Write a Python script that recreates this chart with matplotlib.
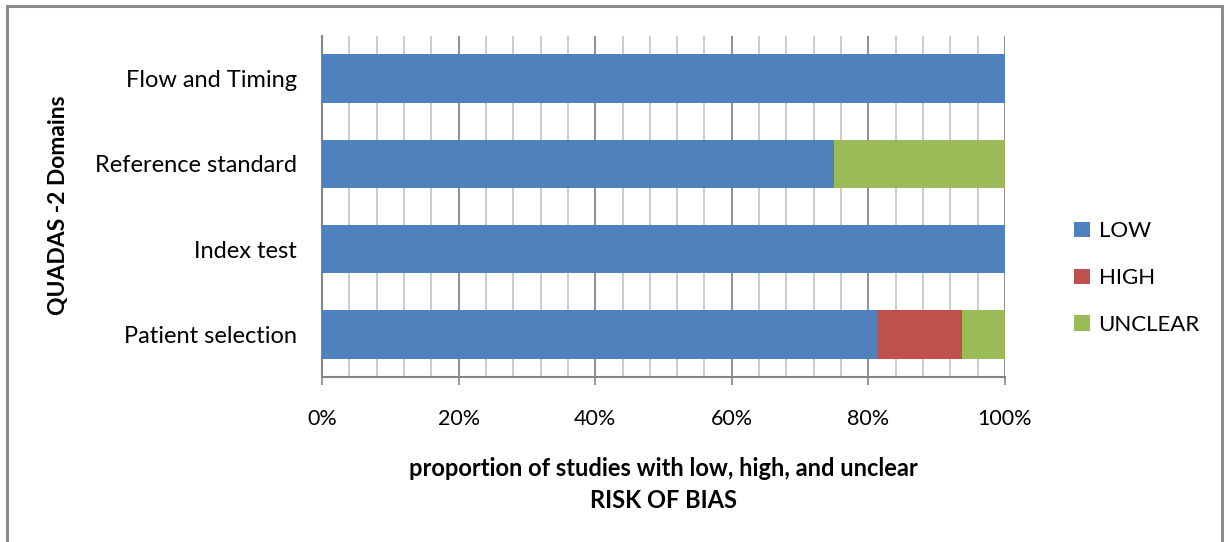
import matplotlib.pyplot as plt
import matplotlib.patches as mpatches
from matplotlib.ticker import MultipleLocator, PercentFormatter

# QUADAS-2 risk of bias, proportion of studies per domain (16 studies)
domains = ['Patient selection', 'Index test', 'Reference standard', 'Flow and Timing']
low = [81.25, 100.0, 75.0, 100.0]
high = [12.5, 0.0, 0.0, 0.0]
unclear = [6.25, 0.0, 25.0, 0.0]

series_names = ['LOW', 'HIGH', 'UNCLEAR']
series_colors = ['#4F81BD', '#C0504D', '#9BBB59']

plt.rcParams['font.family'] = ['Lato', 'DejaVu Sans']

fig = plt.figure(figsize=(12.3, 5.42), dpi=100)
ax = fig.add_axes([322 / 1230, 1 - 377 / 542, (1005 - 322) / 1230, (377 - 36) / 542])

# outer chart frame
fig.patches.append(mpatches.Rectangle((7 / 1230, -0.02), (1222 - 7) / 1230, 1.0 - 6 / 542 + 0.02,
                                      transform=fig.transFigure, fill=False,
                                      edgecolor='#8C8C8C', linewidth=2.2))

ypos = range(len(domains))
bar_h = 0.57
left = [0.0] * len(domains)
for name, vals, col in zip(series_names, [low, high, unclear], series_colors):
    ax.barh(ypos, vals, left=left, height=bar_h, color=col, label=name, zorder=3)
    left = [a + b for a, b in zip(left, vals)]

ax.set_xlim(0, 100)
ax.set_ylim(-0.5, len(domains) - 0.5)
ax.set_yticks(list(ypos))
ax.set_yticklabels(domains, fontsize=17)
ax.xaxis.set_major_locator(MultipleLocator(20))
ax.xaxis.set_minor_locator(MultipleLocator(4))
ax.xaxis.set_major_formatter(PercentFormatter(decimals=0))
ax.tick_params(axis='x', which='major', labelsize=15.5, length=6, width=1.2, color='#868686', pad=17)
ax.tick_params(axis='x', which='minor', length=0)
ax.tick_params(axis='y', length=0, pad=18)

ax.grid(axis='x', which='major', color='#868686', linewidth=1.3, zorder=0)
ax.grid(axis='x', which='minor', color='#C8C8C8', linewidth=1.3, zorder=0)
for side in ['top', 'right']:
    ax.spines[side].set_visible(False)
ax.spines['left'].set_color('#868686')
ax.spines['left'].set_linewidth(1.5)
ax.spines['bottom'].set_color('#868686')
ax.spines['bottom'].set_linewidth(1.5)

ax.set_xlabel('proportion of studies with low, high, and unclear\nRISK OF BIAS',
              fontsize=17, fontweight='bold', labelpad=20, linespacing=1.5)
fig.text(58 / 1230, 1 - 205 / 542, 'QUADAS -2 Domains', rotation=90, fontsize=16.5,
         fontweight='bold', ha='center', va='center')

ax.legend(loc='center left', bbox_to_anchor=(1.072, 0.29), frameon=False, fontsize=16,
          handlelength=0.7, handleheight=0.7, handletextpad=0.4, labelspacing=1.2)

fig.savefig('out.png', dpi=100)
